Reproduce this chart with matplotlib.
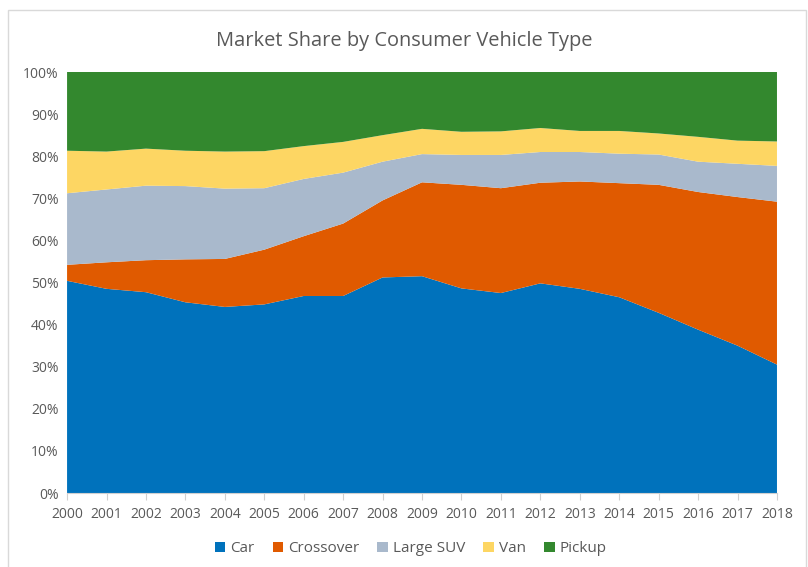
import numpy as np
import matplotlib.pyplot as plt
from matplotlib.patches import Rectangle
from matplotlib.ticker import PercentFormatter

plt.rcParams['font.family'] = ['Open Sans', 'DejaVu Sans']

years = list(range(2000, 2019))
car = [50.4, 48.5, 47.7, 45.3, 44.2, 44.8, 46.8, 46.8, 51.2, 51.5,
       48.6, 47.5, 49.8, 48.5, 46.5, 42.8, 38.8, 35.0, 30.5]
crossover = [3.8, 6.3, 7.6, 10.2, 11.4, 13.0, 14.2, 17.2, 18.3, 22.3,
             24.6, 24.9, 23.9, 25.5, 27.1, 30.4, 32.7, 35.3, 38.7]
large_suv = [17.0, 17.3, 17.7, 17.4, 16.7, 14.6, 13.6, 12.1, 9.2, 6.7,
             7.1, 7.9, 7.3, 7.0, 7.0, 7.2, 7.2, 7.9, 8.5]
van = [10.1, 9.0, 8.8, 8.4, 8.8, 8.8, 7.8, 7.3, 6.3, 6.0,
       5.5, 5.6, 5.7, 5.0, 5.4, 5.0, 5.9, 5.5, 5.8]
pickup = [18.7, 18.9, 18.2, 18.7, 18.9, 18.8, 17.6, 16.6, 15.0, 13.5,
          14.2, 14.1, 13.3, 14.0, 14.0, 14.6, 15.4, 16.3, 16.5]

labels = ['Car', 'Crossover', 'Large SUV', 'Van', 'Pickup']
colors = ['#0072BC', '#E05A00', '#A9B9CC', '#FDD663', '#33882E']

fig = plt.figure(figsize=(8.08, 5.67), dpi=100)
ax = fig.add_axes([0.083, 0.1305, 0.8786, 0.7425])

ax.stackplot(years, car, crossover, large_suv, van, pickup,
             labels=labels, colors=colors, linewidth=0)

ax.set_xlim(2000, 2018)
ax.set_ylim(0, 100)
ax.set_xticks(years)
ax.set_yticks(range(0, 101, 10))
ax.yaxis.set_major_formatter(PercentFormatter(decimals=0))

for s in ['top', 'right', 'left']:
    ax.spines[s].set_visible(False)
ax.spines['bottom'].set_color('#D0D0D0')
ax.tick_params(axis='y', length=0, labelsize=10, colors='#595959', pad=6)
ax.tick_params(axis='x', length=5, color='#D0D0D0', labelsize=10,
               labelcolor='#595959', pad=5)

fig.text(0.5, 0.928, 'Market Share by Consumer Vehicle Type',
         ha='center', va='center', fontsize=14.4, color='#595959')

fig.legend(loc='center', bbox_to_anchor=(0.508, 0.032), ncol=5, frameon=False,
           fontsize=11, handlelength=0.7, handleheight=0.7,
           handletextpad=0.3, columnspacing=1.2, labelcolor='#595959')

# light frame around the chart area (bottom edge runs off the picture)
fig.patches.append(Rectangle((0.0099, -0.01), 0.9876, 0.992, transform=fig.transFigure,
                             fill=False, edgecolor='#D9D9D9', linewidth=1))

fig.savefig('out.png', dpi=100)
